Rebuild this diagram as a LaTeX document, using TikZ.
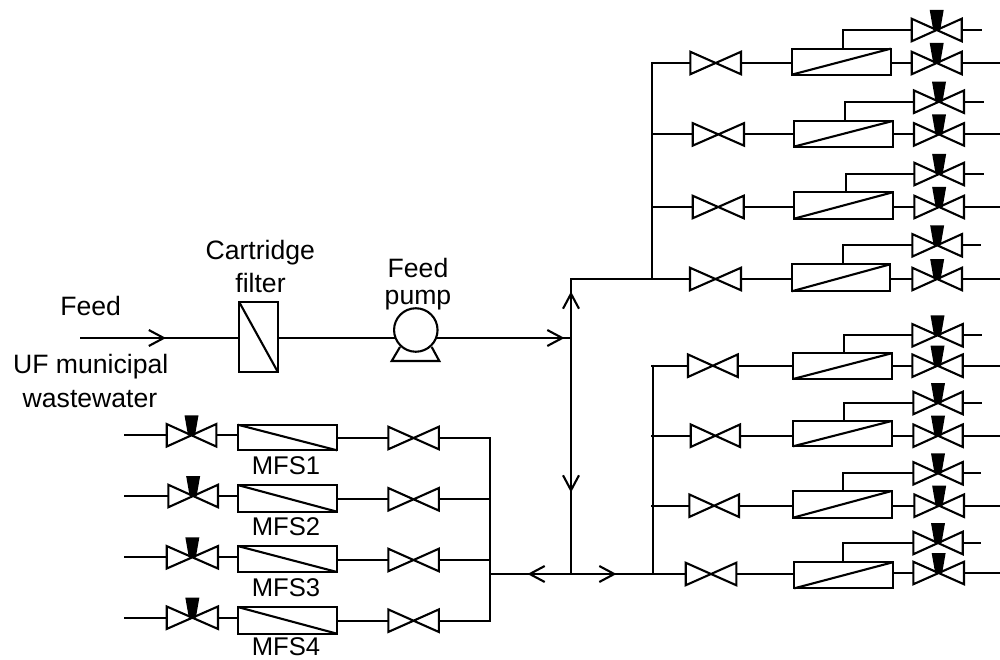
\documentclass[tikz,border=0pt]{standalone}
\usepackage{fontspec}
\setmainfont{Liberation Sans}
\usetikzlibrary{arrows.meta}
\tikzset{
  x=1pt,y=-1pt,
  pipe/.style={line width=2.1pt,line join=miter},
  barb/.style={pipe,-{Straight Barb[length=15pt,width=16pt,line width=2.1pt]}},
  membox/.style={draw,line width=2.1pt,inner sep=0pt,outer sep=0pt,fill=white},
  valvebox/.style={inner sep=0pt,outer sep=0pt},
  lbl/.style={font=\fontsize{26.6}{26.6}\selectfont,inner sep=0pt,anchor=base,text=black},
  mfslbl/.style={font=\fontsize{25.6}{25.6}\selectfont,inner sep=0pt,anchor=base,text=black}
}
% name, left, right, y
\newcommand{\valveshape}[4]{%
  \node[valvebox,minimum width={#3-#2},minimum height=22.5pt] (#1) at ({(#2+#3)/2},#4) {};
  \draw[pipe] (#1.north west) -- (#1.south east) -- (#1.north east) -- (#1.south west) -- cycle;}
\newcommand{\crown}[1]{\fill (#1.center) ++(-7,-20) -- ++(14,0) -- ++(-3.5,20) -- ++(-7,0) -- cycle;}
% name, left, right, top, bottom
\newcommand{\membrane}[5]{%
  \node[membox,minimum width={#3-#2},minimum height={#5-#4}] (#1) at ({(#2+#3)/2},{(#4+#5)/2}) {};}
\begin{document}
\begin{tikzpicture}
\path[fill=white,use as bounding box] (0,0) rectangle (1000,660);
% feed line
\coordinate (feedstart) at (80,338);
\coordinate (feedtip) at (166,338);
\coordinate (feedrest) at (164,338);
\membrane{filter}{239}{277.7}{301.7}{371.7}
\draw[pipe] (filter.north west) -- (filter.south east);
\draw[barb] (feedstart) -- (feedtip);
\draw[pipe] (feedrest) -- (filter.west |- feedtip);
% pump
\node[draw,circle,line width=2.1pt,minimum size=43.5pt,inner sep=0pt,outer sep=0pt] (pump) at (415.8,330) {};
\draw[pipe] (400,347) -- (391.7,361) -- (439.3,361) -- (431.7,347);
\coordinate (pumpin) at (394.5,338);
\coordinate (pumpout) at (437,338);
\draw[pipe] (filter.east |- pumpin) -- (pumpin);
% main junctions
\coordinate (mtop) at (571,278);
\coordinate (mbot) at (571,575.3);
\coordinate (mfeed) at (571,338);
\coordinate (feedarrow) at (564.5,338);
\coordinate (feedrest2) at (562.5,338);
\coordinate (uptip) at (571,291.5);
\coordinate (uprest) at (571,293.5);
\coordinate (downtip) at (571,492.5);
\coordinate (downrest) at (571,490.5);
\coordinate (hmid) at (571,574);
\coordinate (lefttip) at (527.5,574);
\coordinate (leftrest) at (529.5,574);
\coordinate (righttip) at (616.5,574);
\coordinate (rightrest) at (614.5,574);
\coordinate (lhead) at (489.7,574);
\draw[barb] (pumpout) -- (feedarrow);
\draw[pipe] (feedrest2) -- (mfeed);
\draw[barb] (mfeed) -- (uptip);
\draw[pipe] (uprest) -- (mtop);
\draw[barb] (mfeed) -- (downtip);
\draw[pipe] (downrest) -- (mbot);
\draw[barb] (hmid) -- (lefttip);
\draw[pipe] (leftrest) -- (lhead);
\draw[barb] (hmid) -- (righttip);
% headers
\coordinate (h1top) at (652,62);
\coordinate (h1bot) at (652,278.7);
\coordinate (h2top) at (653,364.7);
\coordinate (h2bot) at (653,574);
\draw[pipe] (h1top) -- (h1bot);
\draw[pipe] (h2top) -- (h2bot);
% right rows
\foreach \i/\y/\yy/\sx/\a/\b/\c/\d/\t/\u/\e/\f/\uy/\bx/\g/\h/\ex in {
 1/63/63/651/690.3/741/791.7/890.7/48.7/74.7/911.7/961.7/30/843/911.7/961.7/981.7,
 2/134.4/134.4/651/692.7/744/793.7/892.7/121/146.7/914/964/101.7/845/914/964/984,
 3/207/207/651/692.7/743.7/794/892.7/192.3/218.7/914.3/964/174/845.7/914.3/964/983.7,
 4/279/279/570/690/741/791.7/890.3/264.3/291.3/912.3/962/245.3/843.3/912.3/962/981.3,
 5/365.7/365.7/651/688/737.7/793/891.7/353.3/379/912.3/962.7/335.3/844/912.3/962.7/982.3,
 6/435.7/435.7/651/690.7/740/793/891.7/421/446.3/913.3/962.7/403/844/913.3/962.7/982.3,
 7/505.7/505.7/651/689.3/739/793/891.7/491/517.7/914.3/964/473.3/843.3/913.3/962.7/981.3,
 8/574/573/614.5/685.7/736.3/794.3/892.7/562.3/588.3/913.3/964/543/843.3/913.3/962.7/981.3}{
  \valveshape{ra\i}{\a}{\b}{\y}
  \membrane{rm\i}{\c}{\d}{\t}{\u}
  \draw[pipe] (rm\i.south west) -- (rm\i.north east);
  \valveshape{rb\i}{\e}{\f}{\yy}
  \crown{rb\i}
  \valveshape{rc\i}{\g}{\h}{\uy}
  \crown{rc\i}
  \coordinate (rs\i) at (\sx,\y);
  \coordinate (re\i) at (1000,\yy);
  \coordinate (rx\i) at (\ex,\uy);
  \coordinate (rj\i) at (\bx,\t);
  \draw[pipe] (rs\i) -- (ra\i.west);
  \draw[pipe] (ra\i.east) -- (rm\i.west |- ra\i.east);
  \draw[pipe] (rm\i.east |- rb\i.west) -- (rb\i.west);
  \draw[pipe] (rb\i.east) -- (re\i);
  \draw[pipe] (rj\i) |- (rc\i.west);
  \draw[pipe] (rc\i.east) -- (rx\i);
}
% left rows
\foreach \i/\y/\ry/\a/\b/\t/\u/\c/\lab in {
 1/435.3/438/166.7/216.3/424.7/450.3/388.3/474.3,
 2/496/499.3/168.3/218/485/511.7/388.3/535.5,
 3/557.3/560/166.7/218/546/572/388.3/596.7,
 4/617.7/620.7/166.7/218/607/633.7/388.3/655}{
  \valveshape{la\i}{\a}{\b}{\y}
  \crown{la\i}
  \membrane{lm\i}{237.7}{337}{\t}{\u}
  \draw[pipe] (lm\i.north west) -- (lm\i.south east);
  \valveshape{lb\i}{\c}{438.8}{\ry}
  \coordinate (ls\i) at (124,\y);
  \coordinate (lj\i) at (490,\ry);
  \draw[pipe] (ls\i) -- (la\i.west);
  \draw[pipe] (la\i.east) -- (lm\i.west |- la\i.east);
  \draw[pipe] (lm\i.east |- lb\i.west) -- (lb\i.west);
  \draw[pipe] (lb\i.east) -- (lj\i);
  \node[mfslbl] (lt\i) at (286,\lab) {MFS\i};
}
\draw[pipe] ([yshift=1pt]lj1) -- ([yshift=-1pt]lj4);
% labels
\node[lbl] (t1) at (260.3,259.3) {Cartridge};
\node[lbl] (t2) at (260.5,292.7) {filter};
\node[lbl] (t3) at (418,277.7) {Feed};
\node[lbl] (t4) at (418,304) {pump};
\node[lbl] (t5) at (90.7,315.7) {Feed};
\node[lbl] (t6) at (90.7,373.3) {UF municipal};
\node[lbl] (t7) at (90,407.7) {wastewater};
\end{tikzpicture}
\end{document}
